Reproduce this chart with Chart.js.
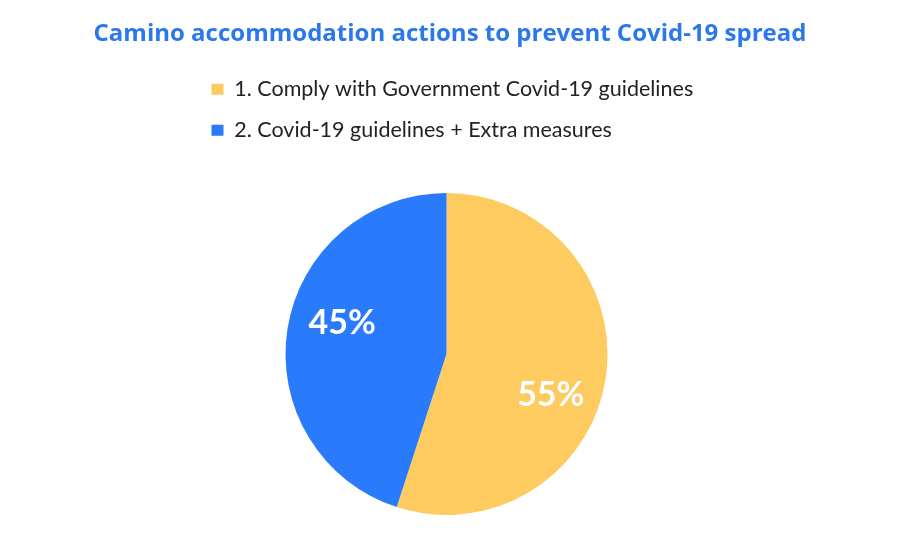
<!DOCTYPE html>
<html>
<head>
<meta charset="utf-8">
<script src="https://cdn.jsdelivr.net/npm/chart.js@4/dist/chart.umd.min.js"></script>
<style>
  html, body { margin: 0; padding: 0; background: #fff; overflow: hidden; }
  #wrap { width: 900px; height: 557px; position: relative; }
</style>
</head>
<body>
<div id="wrap"><canvas id="pie"></canvas></div>
<script>
// chart data
const chartTitle = "Camino accommodation actions to prevent Covid-19 spread";
const categories = ["1. Comply with Government Covid-19 guidelines", "2. Covid-19 guidelines + Extra measures"];
const shares = [55, 45];
const sliceColors = ["#fdcb5f", "#2a7afc"];

// title over the whole canvas width (the built-in one gets squeezed by the side padding)
const wideTitle = {
    id: "wideTitle",
    afterDraw(chart) {
        const ctx = chart.ctx;
        ctx.save();
        ctx.fillStyle = "#2b78ec";
        ctx.font = "700 24px 'Open Sans'";
        ctx.textAlign = "center";
        ctx.textBaseline = "middle";
        ctx.fillText(chartTitle, chart.width / 2, 34);
        ctx.restore();
    }
};

// white % labels drawn inside each slice
const sliceLabels = {
    id: "sliceLabels",
    afterDatasetsDraw(chart) {
        const ctx = chart.ctx;
        const meta = chart.getDatasetMeta(0);
        ctx.save();
        ctx.fillStyle = "#ffffff";
        ctx.font = "700 34px Lato";
        ctx.textAlign = "center";
        ctx.textBaseline = "middle";
        meta.data.forEach(function(arc, i) {
            const p = arc.getProps(["x", "y", "startAngle", "endAngle", "outerRadius"], true);
            const mid = (p.startAngle + p.endAngle) / 2 + 10 * Math.PI / 180;
            const r = p.outerRadius * 0.685;
            ctx.fillText(shares[i] + "%", p.x + Math.cos(mid) * r, p.y + Math.sin(mid) * r + 5);
        });
        ctx.restore();
    }
};

new Chart(document.getElementById("pie"), {
    type: "pie",
    data: {
        labels: categories,
        datasets: [{
            data: shares,
            backgroundColor: sliceColors,
            borderWidth: 0,
            radius: 161
        }]
    },
    options: {
        responsive: true,
        maintainAspectRatio: false,
        animation: false,
        layout: {
            padding: { left: 192, right: 199, top: 59, bottom: 0 }
        },
        plugins: {
            title: { display: false },
            legend: {
                display: true,
                position: "top",
                align: "start",
                labels: {
                    color: "#222222",
                    font: { family: "Lato", size: 21.5 },
                    boxWidth: 12,
                    boxHeight: 11,
                    padding: 19.5
                }
            },
            tooltip: { enabled: false }
        }
    },
    plugins: [sliceLabels, wideTitle]
});
</script>
</body>
</html>
